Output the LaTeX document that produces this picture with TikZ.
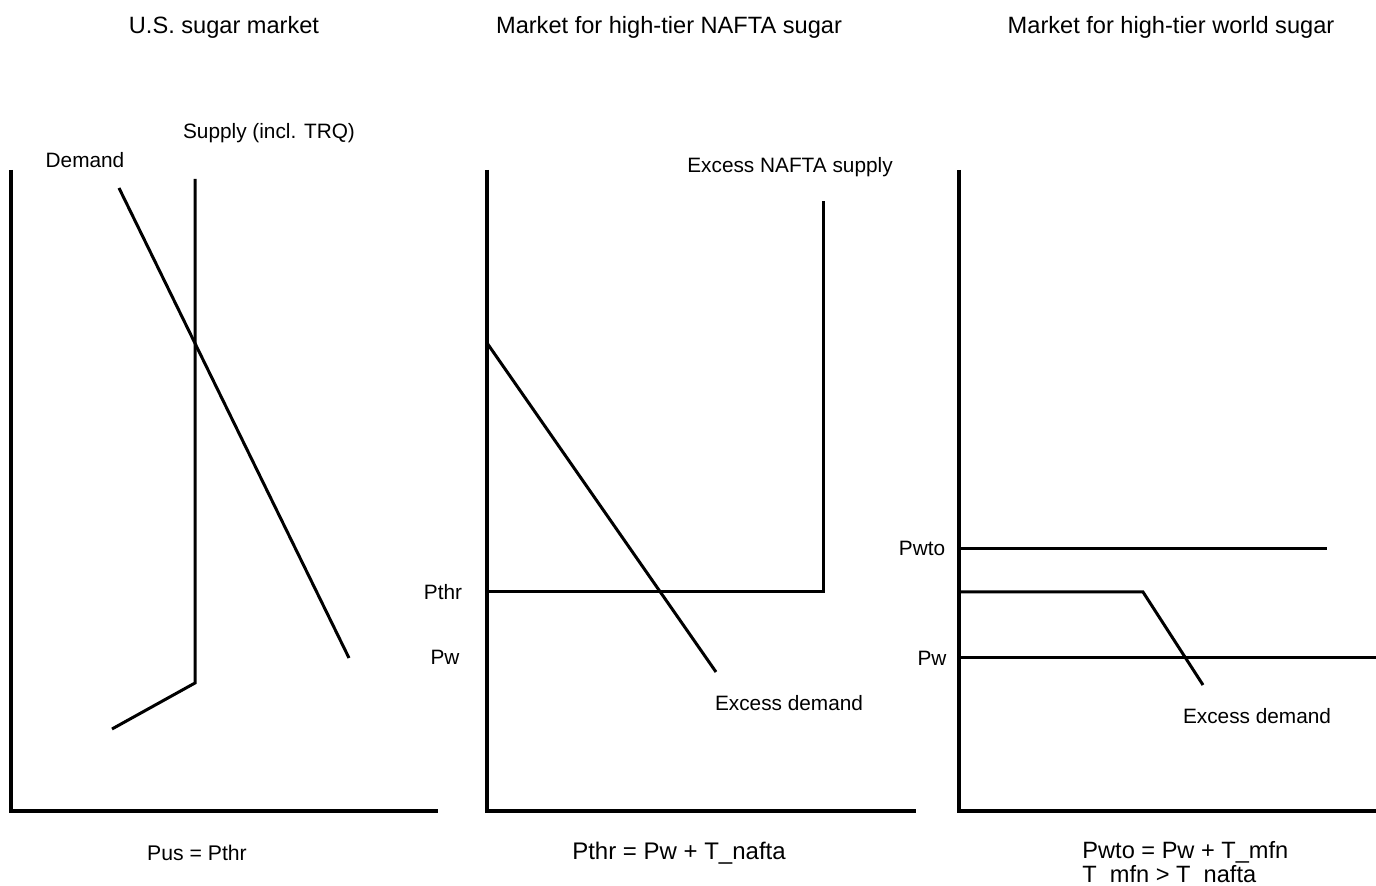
\documentclass[tikz,border=0pt]{standalone}
\usepackage{fontspec}
\setmainfont{Liberation Sans}
\begin{document}
\begin{tikzpicture}[x=0.5pt,y=-0.5pt,
  curve/.style={line width=1.5pt, line cap=butt, line join=miter},
  axis/.style={line width=1.7pt},
  lbl/.style={font=\fontsize{10.4pt}{12.5pt}\selectfont, inner sep=0pt},
  big/.style={font=\fontsize{11.8pt}{14pt}\selectfont, inner sep=0pt}]
\useasboundingbox (0,0) rectangle (1376,886);
% ---------- panel 1 ----------
\node[big] (t1) at (224,27) {U.S. sugar market};
\coordinate (a1top) at (11,170);
\coordinate (a1o) at (11,811);
\coordinate (a1r) at (438,811);
\draw[axis] (a1top) -- (a1o) -- (a1r);
\coordinate (s1top) at (195,179);
\coordinate (s1k) at (195,683);
\coordinate (s1end) at (112,729);
\draw[curve] (s1top) -- (s1k) -- (s1end);
\coordinate (d1a) at (119,188);
\coordinate (d1b) at (349,658);
\draw[curve] (d1a) -- (d1b);
\node[lbl] (ldem) at (85,160) {Demand};
\node[lbl] (lsup) at (269,133) {Supply (incl. TRQ)};
\node[font=\fontsize{10.6pt}{13pt}\selectfont, inner sep=0pt] (b1) at (197,853) {Pus = Pthr};
% ---------- panel 2 ----------
\node[big] (t2) at (669,27) {Market for high-tier NAFTA sugar};
\coordinate (a2top) at (487,170);
\coordinate (a2o) at (487,811);
\coordinate (a2r) at (916,811);
\draw[axis] (a2top) -- (a2o) -- (a2r);
\coordinate (s2l) at (487,592);
\coordinate (s2k) at (823,592);
\coordinate (s2top) at (823,201);
\draw[curve] (s2l) -- (s2k) -- (s2top);
\coordinate (d2a) at (487,343);
\coordinate (d2b) at (716,672);
\draw[curve] (d2a) -- (d2b);
\node[lbl] (lens) at (790,167) {Excess NAFTA supply};
\node[lbl] (lpthr) at (443,592) {Pthr};
\node[lbl] (lpw2) at (445,657) {Pw};
\node[lbl] (led2) at (789,703) {Excess demand};
\node[font=\fontsize{12pt}{14pt}\selectfont, inner sep=0pt] (b2) at (679,853) {Pthr = Pw + T\_nafta};
% ---------- panel 3 ----------
\node[big] (t3) at (1171,27) {Market for high-tier world sugar};
\coordinate (a3top) at (959,170);
\coordinate (a3o) at (959,811);
\coordinate (a3r) at (1376,811);
\draw[axis] (a3top) -- (a3o) -- (a3r);
\coordinate (pwtol) at (959,549);
\coordinate (pwtor) at (1327,549);
\draw[curve] (pwtol) -- (pwtor);
\coordinate (e3l) at (959,592);
\coordinate (e3k) at (1143,592);
\coordinate (e3b) at (1203,685);
\draw[curve] (e3l) -- (e3k) -- (e3b);
\coordinate (pw3l) at (959,658);
\coordinate (pw3r) at (1376,658);
\draw[curve] (pw3l) -- (pw3r);
\node[lbl] (lpwto) at (922,548) {Pwto};
\node[lbl] (lpw3) at (932,658) {Pw};
\node[lbl] (led3) at (1257,716) {Excess demand};
\node[big, anchor=west] (b3a) at (1082,852) {Pwto = Pw + T\_mfn};
\node[big, anchor=west] (b3b) at (1082,876) {T\phantom{\_}mfn > T\phantom{\_}nafta};
\end{tikzpicture}
\end{document}
